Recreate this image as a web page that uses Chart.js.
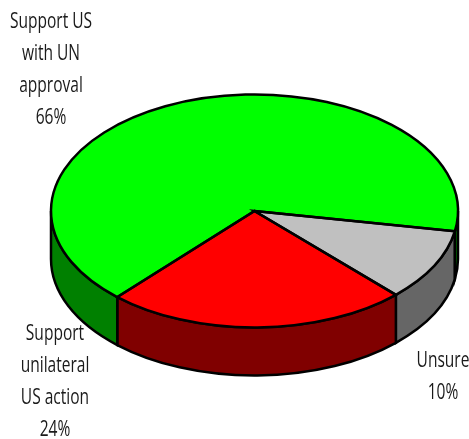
<!DOCTYPE html>
<html lang="en">
  <head>
    <meta charset="UTF-8" />
    <title>Support for US action</title>
  </head>
  <style>
    * {
      margin: 0;
      padding: 0;
    }
    body {
      background: white;
      overflow: hidden;
    }
  </style>
  <body>
    <canvas id="myChart" width="469" height="439"></canvas>

    <script src="https://cdn.jsdelivr.net/npm/chart.js"></script>

    <script>
      // data block
      const categories = ["Unsure", "Support unilateral US action", "Support US with UN approval"];
      const shares = [10, 24, 66];
      const labelLines = [
        ["Unsure", "10%"],
        ["Support", "unilateral", "US action", "24%"],
        ["Support US", "with UN", "approval", "66%"]
      ];

      // look of the pie
      const topColors = ["#c0c0c0", "#ff0000", "#00ff00"];
      const wallColors = ["#666666", "#800000", "#008000"];
      const squash = 0.5725; // ellipse height / width
      const depth = 48;
      const lineGap = 32;
      const textNarrow = 0.74; // the original face is a condensed one
      const labelSpots = [
        { x: 443, y: 361 },
        { x: 55, y: 334 },
        { x: 51, y: 22 }
      ];

      function ellipsePath(ctx, arc, dy, from, to, ccw) {
        const ry = arc.outerRadius * squash;
        ctx.ellipse(arc.x, arc.y + dy, arc.outerRadius, ry, 0, from, to, ccw);
      }

      // flatten the pie, and draw the side wall under it
      const tiltPlugin = {
        id: "tilt",
        beforeDatasetsDraw(chart) {
          const ctx = chart.ctx;
          const arcs = chart.getDatasetMeta(0).data;

          arcs.forEach((arc, i) => {
            // only the front half of the rim can be seen
            [0, Math.PI * 2].forEach((turn) => {
              const from = Math.max(arc.startAngle, turn);
              const to = Math.min(arc.endAngle, turn + Math.PI);
              if (to <= from) return;
              ctx.beginPath();
              ellipsePath(ctx, arc, 0, from, to, false);
              ellipsePath(ctx, arc, depth, to, from, true);
              ctx.closePath();
              ctx.fillStyle = wallColors[i];
              ctx.fill();
              ctx.lineWidth = 2.5;
              ctx.strokeStyle = "black";
              ctx.stroke();
            });
          });

          const a = arcs[0];
          ctx.save();
          ctx.translate(a.x, a.y);
          ctx.scale(1, squash);
          ctx.translate(-a.x, -a.y);
        },
        afterDatasetsDraw(chart) {
          const ctx = chart.ctx;
          ctx.restore();

          // outlines come after the restore so the line keeps its width
          chart.getDatasetMeta(0).data.forEach((arc) => {
            ctx.beginPath();
            ctx.moveTo(arc.x, arc.y);
            ellipsePath(ctx, arc, 0, arc.startAngle, arc.endAngle, false);
            ctx.closePath();
            ctx.lineWidth = 2.5;
            ctx.lineJoin = "miter";
            ctx.strokeStyle = "black";
            ctx.stroke();
          });

          ctx.font = '21px "Open Sans"';
          ctx.fillStyle = "#1a1a1a";
          ctx.textAlign = "center";
          ctx.textBaseline = "middle";
          labelLines.forEach((lines, i) => {
            lines.forEach((line, n) => {
              ctx.save();
              ctx.translate(labelSpots[i].x, labelSpots[i].y + n * lineGap);
              ctx.scale(textNarrow, 1);
              ctx.fillText(line, 0, 0);
              ctx.restore();
            });
          });
        }
      };

      // config block
      const config = {
        type: "pie",
        data: {
          labels: categories,
          datasets: [
            {
              data: shares,
              backgroundColor: topColors,
              borderWidth: 0,
              hoverOffset: 0
            }
          ]
        },
        options: {
          responsive: false,
          animation: false,
          rotation: 100,
          layout: {
            padding: { left: 51, right: 11, top: 7.5, bottom: 24.5 }
          },
          plugins: {
            legend: { display: false },
            tooltip: { enabled: false }
          }
        },
        plugins: [tiltPlugin]
      };

      // init render block
      const ctx = document.getElementById("myChart");
      const myChart = new Chart(ctx, config);
    </script>
  </body>
</html>
